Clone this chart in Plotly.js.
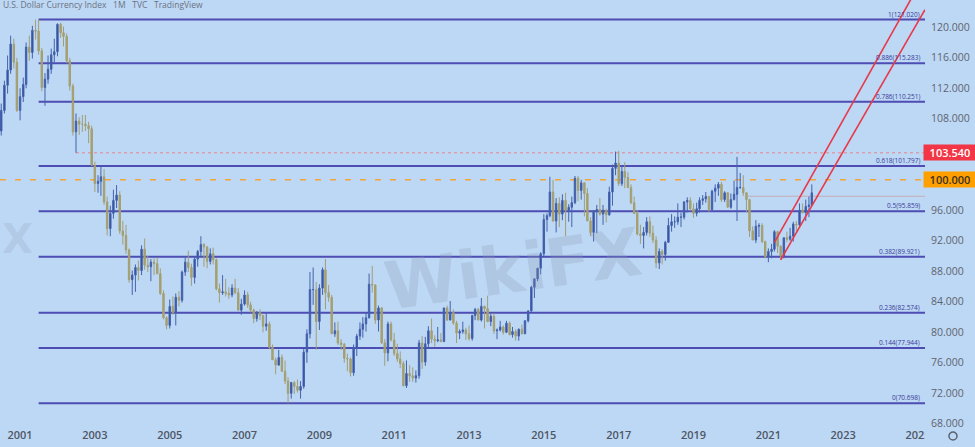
<!DOCTYPE html>
<html>
<head>
<meta charset="utf-8">
<script src="https://cdn.plot.ly/plotly-3.0.1.min.js"></script>
<style>
  html, body { margin: 0; padding: 0; background: #bdd8f4; }
  #chart { width: 975px; height: 447px; }
</style>
</head>
<body>
<div id="chart"></div>
<script>
// ---- Monthly OHLC, U.S. Dollar Currency Index (TVC), Jun 2000 .. Mar 2022 ----
const startYear = 2000, startMonth = 6;

const open = [
  108.8,106.4,109.1,112.4,114.4,117.8,115.4,                        // 2000 (Jun-Dec)
  109.1,110.9,112.5,117.4,116.7,119.6,119.5,116.9,112.1,113.2,114.5,116.4, // 2001
  116.8,120.4,119.3,118.8,115.6,112.3,106.3,107.7,107.3,107.3,107.1,106.7, // 2002
  101.9,99.5,99.8,100.4,97.1,93.6,95.6,97.3,98.0,93.3,92.7,90.8,   // 2003
  86.9,87.5,88.5,88.1,90.9,88.8,88.6,89.2,89.0,87.7,85.1,81.9,     // 2004
  80.9,83.4,82.6,84.6,84.2,87.9,89.2,88.5,87.2,89.6,90.6,91.5,     // 2005
  91.2,89.3,90.3,89.5,85.7,85.2,85.3,85.1,84.9,85.8,85.2,82.9,     // 2006
  83.7,84.9,83.6,82.9,81.8,82.6,82.2,80.8,81.1,78.0,76.4,75.7,     // 2007
  76.7,74.9,73.6,72.0,73.4,72.9,72.4,72.9,77.4,79.8,85.6,85.6,     // 2008
  81.4,85.8,88.2,85.2,84.6,79.8,80.2,78.6,78.4,76.6,76.5,74.7,     // 2009
  77.9,79.5,80.4,81.1,81.9,86.3,86.2,81.6,83.2,78.6,77.3,81.1,     // 2010
  79.0,77.2,76.5,75.9,73.0,74.6,74.3,74.0,74.3,78.6,76.1,78.5,     // 2011
  80.2,79.1,78.9,79.0,78.8,83.2,81.6,82.6,81.2,79.9,80.1,80.3,     // 2012
  79.8,79.2,82.2,83.0,81.6,83.4,83.1,81.4,82.1,80.2,80.3,80.7,     // 2013
  80.0,81.2,79.7,80.1,79.5,80.4,79.8,81.5,82.8,85.9,87.0,88.4,     // 2014
  90.3,94.8,95.3,98.4,94.6,96.9,95.5,97.3,96.0,96.4,97.0,100.2,    // 2015
  98.6,99.6,98.2,94.6,93.1,95.9,96.1,95.5,96.0,95.4,98.4,101.5,    // 2016
  102.2,99.5,101.1,100.3,99.0,97.0,95.6,92.9,92.7,93.1,94.5,93.0,  // 2017
  92.1,89.1,90.6,90.2,91.8,94.0,94.5,94.5,95.1,95.1,97.1,97.3,     // 2018
  96.2,95.6,96.2,97.3,97.5,97.8,96.1,98.5,98.9,99.4,97.4,98.3,     // 2019
  96.4,97.4,98.1,99.0,99.0,98.3,97.4,93.3,92.1,93.9,94.0,91.9,     // 2020
  89.9,90.6,90.9,93.2,91.3,90.0,92.4,92.2,92.6,94.2,94.1,96.0,     // 2021
  95.7,96.5,96.7                                                    // 2022
];
const high = [
  109.5,110.0,113.0,116.3,118.9,118.5,116.0,
  112.0,113.4,118.0,118.9,120.2,121.0,121.02,117.3,114.0,116.3,117.2,118.5,
  120.51,120.6,120.1,119.2,116.0,112.6,108.7,108.2,108.5,108.5,107.6,107.1,
  102.4,100.6,101.9,101.4,97.8,96.6,98.7,99.3,98.5,94.6,94.1,91.0,
  88.1,88.9,89.4,91.4,92.3,90.0,89.6,89.7,89.8,88.4,85.5,82.1,
  84.3,84.7,85.1,85.4,88.1,89.8,90.7,89.0,89.9,90.8,92.6,91.7,
  91.3,91.0,91.1,89.7,86.4,87.5,87.0,85.9,86.3,87.0,85.8,84.4,
  85.5,85.3,84.0,83.1,82.8,83.0,82.3,82.6,81.4,78.4,76.7,77.7,
  77.1,76.3,74.1,73.5,73.6,73.8,73.6,77.8,80.4,87.9,88.5,86.6,
  86.3,88.5,89.6,86.2,84.9,81.3,81.4,79.1,78.6,77.2,76.7,78.4,
  79.8,81.3,82.0,82.6,87.7,88.7,86.3,83.5,83.3,79.1,81.4,81.4,
  79.9,78.5,77.5,76.2,76.3,75.7,75.4,75.0,79.0,79.5,79.4,80.8,
  81.8,79.6,80.7,79.9,83.2,83.5,84.1,83.0,81.5,80.4,81.4,80.6,
  80.9,82.3,83.2,83.2,84.5,83.5,84.8,82.4,82.5,80.5,81.5,80.9,
  81.5,81.4,80.7,80.4,80.5,81.0,81.6,82.9,86.1,87.1,88.4,90.5,
  95.5,95.6,100.4,100.0,97.6,97.7,98.1,98.3,96.8,97.8,100.5,100.5,
  100.0,99.7,98.9,95.1,96.0,96.7,97.6,96.7,96.2,99.1,102.0,103.7,
  103.8,101.8,102.3,101.0,99.4,97.8,96.0,94.1,93.8,95.1,95.2,94.0,
  92.6,91.0,90.9,92.0,95.0,95.5,95.2,96.9,95.7,97.2,97.7,97.7,
  96.9,97.0,97.7,98.0,98.4,97.9,98.7,99.4,99.7,99.7,98.5,98.4,
  98.2,99.9,103.0,100.9,100.6,98.3,97.5,93.9,94.7,94.3,94.3,92.0,
  91.0,91.6,93.4,93.3,91.4,92.4,93.2,93.7,94.5,94.6,96.9,96.9,
  97.4,97.8,99.4
];
const low = [
  105.0,105.8,108.7,111.3,113.9,114.6,108.9,
  107.8,110.2,112.0,115.6,115.9,118.4,116.4,111.6,109.7,112.6,113.9,115.4,
  116.2,118.6,117.5,115.3,111.7,105.8,103.54,105.9,106.3,106.4,104.8,101.8,
  98.4,98.3,97.9,96.7,92.7,92.6,94.9,96.3,92.9,91.5,90.3,86.5,
  84.9,85.3,86.8,87.5,88.2,87.9,86.7,87.5,87.6,84.9,81.7,80.4,
  80.5,82.3,80.9,83.4,83.9,87.4,87.9,86.1,86.4,88.6,89.9,88.6,
  88.4,88.9,88.9,85.5,83.9,84.9,84.7,84.4,84.6,85.0,82.9,82.3,
  83.5,83.2,82.6,81.2,81.4,81.6,80.0,80.2,77.8,76.4,74.5,75.6,
  74.8,73.2,70.7,71.3,71.9,72.1,71.3,72.6,76.0,79.2,83.6,77.7,
  80.3,84.9,83.0,84.0,79.8,79.4,78.3,77.7,76.0,74.9,74.2,74.3,
  76.9,79.0,79.3,80.1,81.8,85.2,81.1,80.1,78.5,75.6,76.2,78.8,
  76.9,76.1,75.3,72.9,72.7,73.5,73.5,73.4,73.9,75.2,75.6,77.9,
  78.6,78.1,78.7,78.7,78.7,81.5,81.6,81.0,78.6,79.1,79.8,79.0,
  78.9,78.9,81.6,81.6,81.4,80.5,81.4,80.8,79.8,79.1,80.1,79.7,
  79.9,79.6,79.3,78.9,78.9,79.7,79.8,81.3,82.7,84.5,86.7,87.6,
  90.0,93.2,95.1,94.5,93.1,93.8,94.7,92.6,94.5,93.8,96.8,97.2,
  97.4,95.2,94.6,92.6,91.9,93.0,95.3,94.1,94.4,95.3,96.6,100.6,
  99.2,99.2,98.9,98.9,96.8,95.5,92.7,91.6,91.0,92.7,92.5,91.7,
  88.4,88.3,88.9,89.4,91.8,93.2,93.7,94.1,93.8,94.8,95.7,95.9,
  95.0,95.2,95.7,96.7,97.0,95.8,95.8,97.1,97.9,97.1,97.1,96.4,
  96.2,97.3,94.6,98.8,97.9,95.7,92.5,92.1,91.7,92.5,91.7,89.7,
  89.2,89.7,90.6,90.4,89.5,89.7,91.8,92.0,91.9,93.3,93.9,95.6,
  94.6,95.1,96.6
];
const close = [
  106.4,109.1,112.4,114.4,117.8,115.4,109.1,
  110.9,112.5,117.4,116.7,119.6,119.5,116.9,112.1,113.2,114.5,116.4,116.8,
  120.4,119.3,118.8,115.6,112.3,106.3,107.7,107.3,107.3,107.1,106.7,101.9,
  99.5,99.8,100.4,97.1,93.6,95.6,97.3,98.0,93.3,92.7,90.8,86.9,
  87.5,88.5,88.1,90.9,88.8,88.6,89.2,89.0,87.7,85.1,81.9,80.9,
  83.4,82.6,84.6,84.2,87.9,89.2,88.5,87.2,89.6,90.6,91.5,91.2,
  89.3,90.3,89.5,85.7,85.2,85.3,85.1,84.9,85.8,85.2,82.9,83.7,
  84.9,83.6,82.9,81.8,82.6,82.2,80.8,81.1,78.0,76.4,75.7,76.7,
  74.9,73.6,72.0,73.4,72.9,72.4,72.9,77.4,79.8,85.6,85.6,81.4,
  85.8,88.2,85.2,84.6,79.8,80.2,78.6,78.4,76.6,76.5,74.7,77.9,
  79.5,80.4,81.1,81.9,86.3,86.2,81.6,83.2,78.6,77.3,81.1,79.0,
  77.2,76.5,75.9,73.0,74.6,74.3,74.0,74.3,78.6,76.1,78.5,80.2,
  79.1,78.9,79.0,78.8,83.2,81.6,82.6,81.2,79.9,80.1,80.3,79.8,
  79.2,82.2,83.0,81.6,83.4,83.1,81.4,82.1,80.2,80.3,80.7,80.0,
  81.2,79.7,80.1,79.5,80.4,79.8,81.5,82.8,85.9,87.0,88.4,90.3,
  94.8,95.3,98.4,94.6,96.9,95.5,97.3,96.0,96.4,97.0,100.2,98.6,
  99.6,98.2,94.6,93.1,95.9,96.1,95.5,96.0,95.4,98.4,101.5,102.2,
  99.5,101.1,100.3,99.0,97.0,95.6,92.9,92.7,93.1,94.5,93.0,92.1,
  89.1,90.6,90.2,91.8,94.0,94.5,94.5,95.1,95.1,97.1,97.3,96.2,
  95.6,96.2,97.3,97.5,97.8,96.1,98.5,98.9,99.4,97.4,98.3,96.4,
  97.4,98.1,99.0,99.0,98.3,97.4,93.3,92.1,93.9,94.0,91.9,89.9,
  90.6,90.9,93.2,91.3,90.0,92.4,92.2,92.6,94.2,94.1,96.0,95.7,
  96.5,96.7,98.3
];

// Fibonacci retracement (high Jul 2001 -> low Mar 2008)
const fibRatios = [1, 0.886, 0.786, 0.618, 0.5, 0.382, 0.236, 0.144, 0];
const fibLevels = [121.020, 115.283, 110.251, 101.797, 95.859, 89.921, 82.574, 77.944, 70.698];
const fibStart = '2001-07-01';

// Horizontal price lines
const resistanceLevel = 103.54, resistanceStart = '2002-07-01';
const roundLevel = 100.0;
const recentLevel = 97.84, recentStart = '2020-06-15';

// Rising channel (two parallel lines)
const chanUpperX = ['2021-03-01', '2024-12-01'];
const chanUpperY = [91.8, 124.6];
const chanLowerX = ['2021-05-01', '2025-03-10'];
const chanLowerY = [89.5, 122.3];

// Axes
const xRange = ['2000-06-19', '2025-03-10'];
const yRange = [67.58, 123.58];
const yTicks = [68, 72, 76, 80, 84, 88, 92, 96, 108, 112, 116, 120];

// ------------------------------------------------------------------
const months = close.map((_, i) => {
  const m = startMonth - 1 + i;
  const y = startYear + Math.floor(m / 12);
  return y + '-' + String((m % 12) + 1).padStart(2, '0') + '-01';
});

const BG = '#bdd8f4';
const FIB = '#4d4db3';
const fmt = v => v.toFixed(3);

const traces = [
  {
    type: 'candlestick', x: months, open: open, high: high, low: low, close: close,
    increasing: { line: { color: '#4562ad', width: 1 }, fillcolor: '#2b4a9d' },
    decreasing: { line: { color: '#a29e74', width: 1 }, fillcolor: '#aca15c' },
    whiskerwidth: 0, hoverinfo: 'skip', showlegend: false
  },
  { type: 'scatter', mode: 'lines', x: chanUpperX, y: chanUpperY,
    line: { color: '#e8394b', width: 1.6 }, hoverinfo: 'skip', showlegend: false },
  { type: 'scatter', mode: 'lines', x: chanLowerX, y: chanLowerY,
    line: { color: '#e8394b', width: 1.6 }, hoverinfo: 'skip', showlegend: false }
];

const shapes = [];
fibLevels.forEach(v => shapes.push({
  type: 'line', xref: 'x', yref: 'y', x0: fibStart, x1: xRange[1], y0: v, y1: v,
  line: { color: FIB, width: 2 }, layer: 'below'
}));
shapes.push({ type: 'line', xref: 'x', yref: 'y', x0: resistanceStart, x1: xRange[1],
  y0: resistanceLevel, y1: resistanceLevel, line: { color: '#e8838c', width: 1, dash: 'dot' }, layer: 'below' });
shapes.push({ type: 'line', xref: 'paper', yref: 'y', x0: 0, x1: 1,
  y0: roundLevel, y1: roundLevel, line: { color: '#f2a33a', width: 1.5, dash: '6px,9px' }, layer: 'below' });
shapes.push({ type: 'line', xref: 'x', yref: 'y', x0: recentStart, x1: xRange[1],
  y0: recentLevel, y1: recentLevel, line: { color: 'rgba(196,150,150,0.65)', width: 1 }, layer: 'below' });
// corner mask (price scale / time scale intersection) and settings icon
shapes.push({ type: 'rect', xref: 'paper', yref: 'paper', x0: 1, x1: 1.1, y0: -0.1, y1: 0,
  fillcolor: BG, line: { width: 0 }, layer: 'above' });
shapes.push({ type: 'circle', xref: 'paper', yref: 'paper', x0: 1.0259, x1: 1.0346, y0: -0.0304, y1: -0.0117,
  line: { color: '#5a6270', width: 1.5 }, layer: 'above' });

const annotations = [];
fibLevels.forEach((v, i) => annotations.push({
  xref: 'paper', yref: 'y', x: 1, y: v, xanchor: 'right', yanchor: 'bottom', xshift: -3, yshift: -1,
  text: fibRatios[i] + '(' + fmt(v) + ')', showarrow: false,
  font: { family: 'Open Sans, sans-serif', size: 6.5, color: '#3b3b99' }
}));
annotations.push({
  xref: 'paper', yref: 'y', x: 1, y: resistanceLevel, xanchor: 'left', yanchor: 'middle', xshift: -2,
  text: fmt(resistanceLevel), showarrow: false, bgcolor: '#f23645', width: 50, height: 13, borderpad: 1,
  font: { family: 'Open Sans, sans-serif', size: 11, color: '#ffffff', weight: 600 }
});
annotations.push({
  xref: 'paper', yref: 'y', x: 1, y: roundLevel, xanchor: 'left', yanchor: 'middle', xshift: -2,
  text: fmt(roundLevel), showarrow: false, bgcolor: '#ffa000', width: 50, height: 13, borderpad: 1,
  font: { family: 'Open Sans, sans-serif', size: 11, color: '#3a3220', weight: 600 }
});
// watermark
annotations.push({
  xref: 'paper', yref: 'paper', x: 0.555, y: 0.37, xanchor: 'center', yanchor: 'middle',
  text: '<b>WikiFX</b>', showarrow: false, textangle: -8,
  font: { family: 'DejaVu Sans, sans-serif', size: 66, color: 'rgba(140,155,182,0.28)' }
});
annotations.push({
  xref: 'paper', yref: 'paper', x: 0, y: 0.44, xanchor: 'left', yanchor: 'middle', xshift: 0,
  text: '<b>X</b>', showarrow: false,
  font: { family: 'DejaVu Sans, sans-serif', size: 40, color: 'rgba(140,155,182,0.22)' }
});

const layout = {
  width: 975, height: 447,
  margin: { l: 0, r: 50, t: 0, b: 20 },
  paper_bgcolor: BG, plot_bgcolor: BG,
  showlegend: false,
  title: {
    text: 'U.S. Dollar Currency Index &nbsp; 1M &nbsp; TVC &nbsp; TradingView',
    x: 0.003, xanchor: 'left', y: 0.995, yanchor: 'top',
    font: { family: 'Open Sans, sans-serif', size: 8.5, color: '#6b7282' }
  },
  xaxis: {
    type: 'date', range: xRange, rangeslider: { visible: false },
    tick0: '2001-01-01', dtick: 'M24', tickformat: '%Y',
    showgrid: false, zeroline: false, showline: false, ticks: '',
    tickfont: { family: 'Open Sans, sans-serif', size: 11, color: '#4f5664', weight: 600 },
    fixedrange: true
  },
  yaxis: {
    side: 'right', range: yRange, tickvals: yTicks, tickformat: '.3f',
    showgrid: false, zeroline: false, showline: false, ticks: '',
    ticklabelstandoff: 5,
    tickfont: { family: 'Open Sans, sans-serif', size: 10.5, color: '#5d6472' },
    fixedrange: true
  },
  shapes: shapes,
  annotations: annotations
};

Plotly.newPlot('chart', traces, layout, { displayModeBar: false, staticPlot: true });
</script>
</body>
</html>
